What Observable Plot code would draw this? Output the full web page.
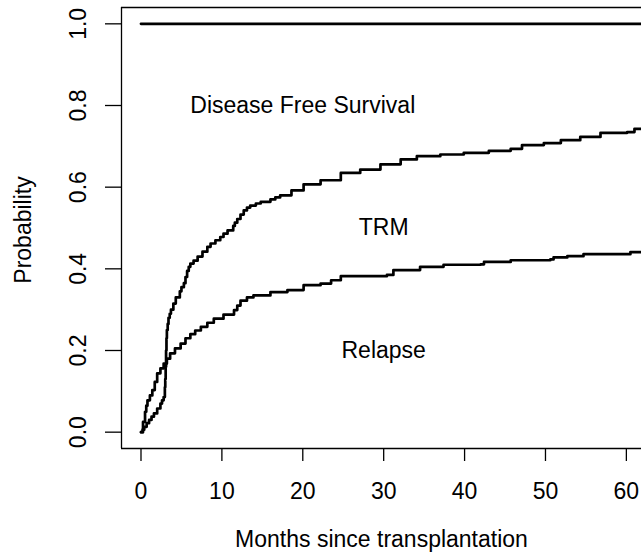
<!DOCTYPE html>
<html>
<head>
<meta charset="utf-8">
<script src="https://cdn.jsdelivr.net/npm/d3@7"></script>
<script src="https://cdn.jsdelivr.net/npm/@observablehq/plot@0.6"></script>
<style>
  html, body { margin: 0; padding: 0; background: white; }
</style>
</head>
<body>
<div id="chart"></div>
<script>
// Upper curve (1 - Disease Free Survival: relapse + TRM)
const upperMonths = [0, 0.2, 0.4, 0.7, 1.0, 1.3, 1.6, 2.0, 2.4, 2.6, 2.8, 2.95, 3.0, 3.05, 3.1, 3.15, 3.2, 3.3, 3.4, 3.55, 3.7, 4.0, 4.3, 4.8, 5.0, 5.3, 5.5, 5.7, 5.9, 6.1, 6.5, 7.0, 7.6, 8.2, 8.6, 9.2, 9.8, 10.2, 10.7, 11.4, 11.6, 11.9, 12.3, 12.7, 13.1, 13.5, 14.2, 14.8, 16.0, 16.6, 17.2, 18.6, 20.1, 22.2, 24.7, 27.1, 29.6, 32.1, 34.1, 37.0, 39.9, 43.0, 45.7, 47.1, 49.8, 51.9, 54.3, 56.8, 60.1, 61.0, 62.5];
const upperProb   = [0, 0.006, 0.013, 0.022, 0.03, 0.038, 0.046, 0.058, 0.07, 0.078, 0.086, 0.11, 0.13, 0.16, 0.20, 0.23, 0.25, 0.265, 0.28, 0.29, 0.30, 0.315, 0.33, 0.345, 0.355, 0.365, 0.38, 0.395, 0.405, 0.413, 0.42, 0.43, 0.442, 0.454, 0.462, 0.47, 0.478, 0.486, 0.494, 0.505, 0.513, 0.522, 0.533, 0.543, 0.55, 0.555, 0.56, 0.564, 0.570, 0.575, 0.580, 0.592, 0.607, 0.617, 0.635, 0.643, 0.656, 0.668, 0.676, 0.680, 0.684, 0.689, 0.694, 0.703, 0.708, 0.715, 0.723, 0.733, 0.735, 0.743, 0.745];

// Lower curve (cumulative relapse)
const relapseMonths = [0, 0.25, 0.5, 0.65, 0.8, 1.1, 1.4, 1.7, 2.0, 2.4, 2.8, 3.2, 3.6, 4.2, 4.9, 5.5, 6.1, 6.7, 7.4, 8.2, 9.0, 10.2, 11.5, 11.9, 12.3, 13.1, 13.9, 16.0, 18.1, 20.1, 22.2, 23.5, 24.7, 30.4, 31.2, 34.5, 37.4, 42.0, 42.4, 45.7, 50.6, 51.0, 52.7, 54.7, 60.1, 60.5, 62.5];
const relapseProb   = [0, 0.025, 0.05, 0.065, 0.078, 0.09, 0.103, 0.123, 0.144, 0.156, 0.168, 0.18, 0.193, 0.205, 0.217, 0.23, 0.240, 0.249, 0.258, 0.268, 0.278, 0.288, 0.299, 0.31, 0.322, 0.33, 0.335, 0.343, 0.348, 0.360, 0.364, 0.372, 0.382, 0.385, 0.397, 0.405, 0.410, 0.411, 0.417, 0.421, 0.423, 0.428, 0.431, 0.436, 0.436, 0.441, 0.441];

// Reference line at probability 1
const topMonths = [0, 62.5];
const topProb = [1, 1];

// Region labels
const regionLabels = ["Disease Free Survival", "TRM", "Relapse"];
const regionMonths = [20, 30, 30];
const regionProb = [0.8, 0.5, 0.2];

// Ticks
const xTicks = [0, 10, 20, 30, 40, 50, 60];
const yTicks = [0, 0.2, 0.4, 0.6, 0.8, 1.0];

const xLabel = "Months since transplantation";
const yLabel = "Probability";

const toRows = (xs, ys) => xs.map((x, i) => ({x, y: ys[i]}));

const chart = Plot.plot({
  width: 641,
  height: 558,
  marginLeft: 121,
  marginRight: 0,
  marginTop: 7,
  marginBottom: 110,
  x: {domain: [-2.41, 61.87]},
  y: {domain: [-0.04, 1.04]},
  style: {
    fontFamily: "'Liberation Sans', Arial, sans-serif",
    fontSize: "23px",
    color: "black",
    background: "white"
  },
  marks: [
    Plot.ruleY([-0.04, 1.04], {stroke: "black", strokeWidth: 1.3}),
    Plot.ruleX([-2.41], {stroke: "black", strokeWidth: 1.3}),
    Plot.axisX({ticks: xTicks, tickSize: 13, tickPadding: 21, label: null, strokeWidth: 1.3, fill: "black"}),
    Plot.axisY({ticks: yTicks, tickSize: 16, tickFormat: () => "", label: null, strokeWidth: 1.3}),
    Plot.text(yTicks, {y: d => d, text: d => d.toFixed(1), frameAnchor: "left", textAnchor: "middle", dx: -43, rotate: -90, fill: "black"}),
    Plot.text([yLabel], {text: d => d, frameAnchor: "left", textAnchor: "middle", dx: -98, dy: 2, rotate: -90, fill: "black"}),
    Plot.text([xLabel], {text: d => d, frameAnchor: "bottom", textAnchor: "middle", dy: 98, fill: "black"}),
    Plot.line(toRows(topMonths, topProb), {x: "x", y: "y", stroke: "black", strokeWidth: 2.8}),
    Plot.line(toRows(upperMonths, upperProb), {x: "x", y: "y", curve: "step-after", stroke: "black", strokeWidth: 2.7}),
    Plot.line(toRows(relapseMonths, relapseProb), {x: "x", y: "y", curve: "step-after", stroke: "black", strokeWidth: 2.7}),
    Plot.text(regionLabels, {x: (d, i) => regionMonths[i], y: (d, i) => regionProb[i], text: d => d, fill: "black"})
  ]
});

document.getElementById("chart").appendChild(chart);
</script>
</body>
</html>
